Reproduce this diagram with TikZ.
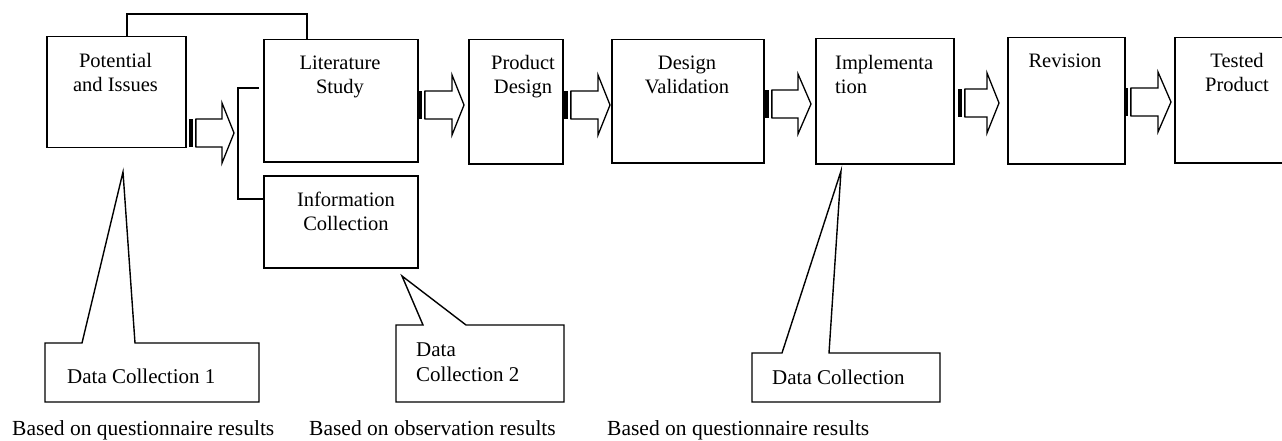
\documentclass[tikz,border=0pt]{standalone}
\usepackage{fontspec}
\setmainfont{Liberation Serif}
\newcommand\stripearrow[4]{% tail x, centre y, head start x, tip x
  \fill (#1,#2-14) rectangle (#1+4,#2+14);
  \fill (#1+5.5,#2-14) rectangle (#1+7,#2+14);
  \draw[arrowline] (#1+7,#2-14) -- (#3,#2-14) -- (#3,#2-30) -- (#4,#2) -- (#3,#2+30) -- (#3,#2+14) -- (#1+7,#2+14) -- cycle;}
\begin{document}
\begin{tikzpicture}[x=1pt,y=-1pt,
  box/.style={draw, line width=1.5pt, inner sep=0pt, anchor=north west},
  txt/.style={font=\fontsize{20.5}{24}\selectfont, inner sep=0pt, anchor=base, align=center},
  ltxt/.style={font=\fontsize{21}{25}\selectfont, inner sep=0pt, anchor=base west, align=left},
  btxt/.style={font=\fontsize{21.5}{25}\selectfont, inner sep=0pt, anchor=base west},
  link/.style={draw, line width=1.4pt},
  arrowline/.style={draw, line width=1.3pt, fill=white, line join=miter},
  callout/.style={draw, line width=1.4pt, line join=miter}]
\useasboundingbox (0,0) rectangle (1282,441);

% process boxes
\node[box, minimum width=139pt, minimum height=111pt] (PI) at (46,36) {};
\node[box, minimum width=154pt, minimum height=122pt] (LS) at (263,39) {};
\node[box, minimum width=154pt, minimum height=92pt]  (IC) at (263,175) {};
\node[box, minimum width=94pt,  minimum height=124pt] (PD) at (468,39) {};
\node[box, minimum width=152pt, minimum height=123pt] (DV) at (611,39) {};
\node[box, minimum width=138pt, minimum height=125pt] (IM) at (815,38) {};
\node[box, minimum width=117pt, minimum height=126pt] (RV) at (1007,37) {};
\node[box, minimum width=130pt, minimum height=125pt] (TP) at (1174,37) {};

% box texts (base anchor = baseline of the last line)
\node[txt] (tPI) at (115.5,92) {Potential\\and Issues};
\node[txt] (tLS) at (340,94) {Literature\\Study};
\node[txt] (tIC) at (346,230) {Information\\Collection};
\node[txt] (tPD) at (523,94) {Product\\Design};
\node[txt] (tDV) at (687,94) {Design\\Validation};
\node[txt, anchor=base west, align=left] (tIM) at (835,94) {Implementa\\tion};
\node[txt] (tRV) at (1065,68) {Revision};
\node[txt] (tTP) at (1237,92) {Tested\\Product};

% brackets
\draw[link] (PI.north -| 127,0) |- (307,14) -- (LS.north -| 307,0);
\draw[link] (259,88) -| (238,199) -- (IC.west |- 0,199);

% block arrows
\stripearrow{189}{133}{222}{234}
\stripearrow{418}{105}{452}{464}
\stripearrow{564}{105}{598}{610}
\stripearrow{765}{104}{798}{811}
\stripearrow{958}{103}{987}{999}
\stripearrow{1124}{102}{1158}{1171}

% callouts
\coordinate (p1) at (123,172);
\coordinate (p2) at (402,276);
\coordinate (p3) at (841,171);
\draw[callout] (45,343) -- (82,343) -- (p1) -- (135,343) -- (259,343) -- (259,402) -- (45,402) -- cycle;
\draw[callout] (396,325) -- (423,325) -- (p2) -- (466,325) -- (564,325) -- (564,402) -- (396,402) -- cycle;
\draw[callout] (752,353) -- (782,353) -- (p3) -- (829,353) -- (940,353) -- (940,402) -- (752,402) -- cycle;
\node[ltxt] (c1) at (67,383) {Data Collection 1};
\node[ltxt] (c2) at (416,381) {Data\\Collection 2};
\node[ltxt] (c3) at (772,384) {Data Collection};

% bottom notes
\node[btxt] (n1) at (12,435) {Based on questionnaire results};
\node[btxt] (n2) at (309,435) {Based on observation results};
\node[btxt] (n3) at (607,435) {Based on questionnaire results};
\end{tikzpicture}
\end{document}
